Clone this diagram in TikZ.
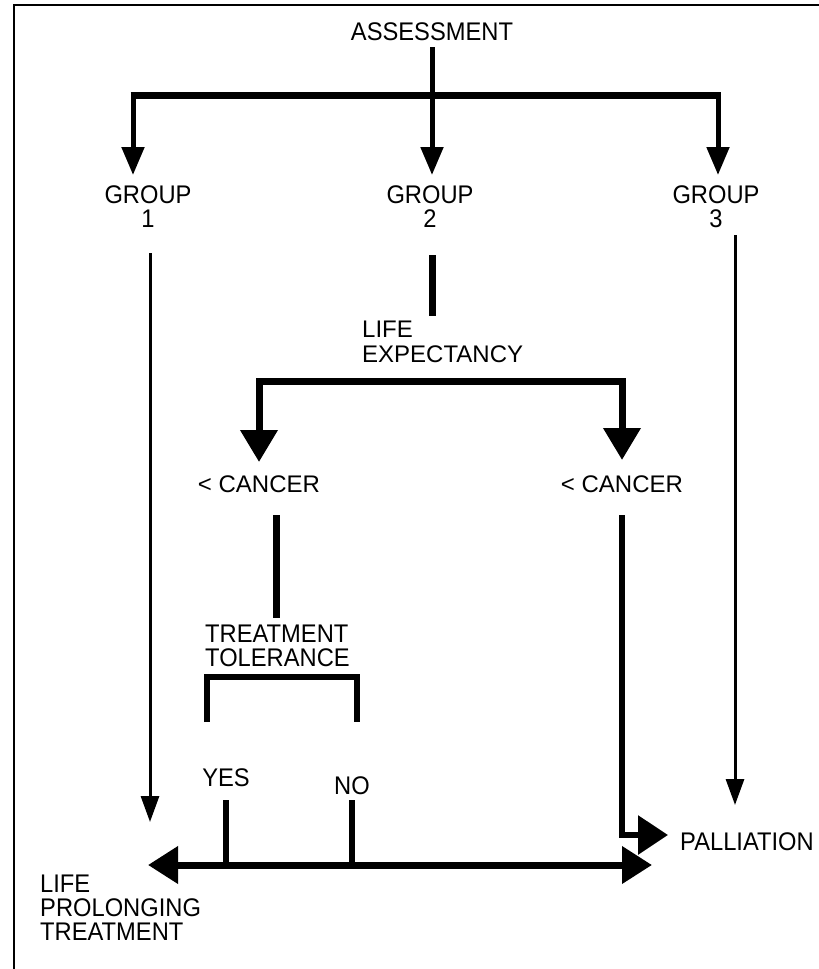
\documentclass[tikz,border=0pt]{standalone}
\usepackage{fontspec}
\setmainfont{Liberation Sans}
\newfontfamily\narrowfont[FakeStretch=0.93]{Liberation Sans}
\usetikzlibrary{arrows.meta}
\begin{document}
\begin{tikzpicture}[x=1pt,y=-1pt,
  lab/.style={inner sep=0pt,font=\narrowfont\fontsize{25.5}{24}\selectfont,align=center},
  labw/.style={inner sep=0pt,font=\fontsize{24}{24.5}\selectfont,align=left},
  barline/.style={line width=7pt,line join=miter},
  medline/.style={line width=5pt},
  thinline/.style={line width=3pt},
  smallhead/.style={-{Triangle[width=22pt,length=28pt]}},
  thinhead/.style={-{Triangle[width=18pt,length=26pt]}},
  bighead/.style={-{Triangle[width=36pt,length=32pt]}},
  bothhead/.style={{Triangle[width=36pt,length=30pt]}-{Triangle[width=36pt,length=30pt]}}
]
\useasboundingbox (0,0) rectangle (819,969);
\fill[white] (0,0) rectangle (819,969);
% frame
\draw[line width=2pt] (14,969) -- (14,5) -- (819,5);

% nodes
\node[lab] (assess) at (432,32) {ASSESSMENT};
\node[lab] (g1) at (148,207) {GROUP\\1};
\node[lab] (g2) at (430,207) {GROUP\\2};
\node[lab] (g3) at (716,207) {GROUP\\3};
\node[labw,anchor=west] (life) at (362,342) {LIFE\\EXPECTANCY};
\node[labw,anchor=center] (c1) at (259,484) {< CANCER};
\node[labw,anchor=center] (c2) at (622,484) {< CANCER};
\node[lab,align=left,anchor=west] (tt) at (205,646) {TREATMENT\\TOLERANCE};
\node[lab] (yes) at (226,778) {YES};
\node[lab] (no) at (352,786) {NO};
\node[lab,anchor=west] (pall) at (680,842) {PALLIATION};
\node[lab,align=left,anchor=west] (lpt) at (40,908) {LIFE\\PROLONGING\\TREATMENT};

% junction coordinates
\coordinate (topjL) at (133,95);
\coordinate (topjM) at (432,95);
\coordinate (topjR) at (718,95);
\coordinate (g1arr) at (133,175);
\coordinate (g2arr) at (432,175);
\coordinate (g3arr) at (718,175);
\coordinate (g1s) at (150,253);
\coordinate (g1e) at (150,822);
\coordinate (g3s) at (735,235);
\coordinate (g3e) at (735,805);
\coordinate (g2s) at (432,255);
\coordinate (g2e) at (432,316);
\coordinate (leL) at (259,381);
\coordinate (leR) at (622,381);
\coordinate (c1tip) at (259,462);
\coordinate (c2tip) at (622,460);
\coordinate (c1s) at (276,515);
\coordinate (c1e) at (276,618);
\coordinate (c2s) at (622,515);
\coordinate (c2c) at (622,835);
\coordinate (paltip) at (668,835);
\coordinate (brL) at (207,722);
\coordinate (brLt) at (207,677);
\coordinate (brRt) at (357,677);
\coordinate (brR) at (357,722);
\coordinate (yesS) at (226,800);
\coordinate (noS) at (352,800);
\coordinate (botL) at (148,865);
\coordinate (botR) at (652,865);

% top tree
\draw[medline] (assess.south) ++(0,6) -- (topjM);
\draw[barline] ([xshift=-2.5pt]topjL) -- ([xshift=2.5pt]topjR);
\draw[medline,smallhead] (topjL) -- (g1arr);
\draw[medline,smallhead] (topjM) -- (g2arr);
\draw[medline,smallhead] (topjR) -- (g3arr);

% group 1 and 3 long arrows
\draw[thinline,thinhead] (g1s) -- (g1e);
\draw[thinline,thinhead] (g3s) -- (g3e);

% group 2
\draw[barline] (g2s) -- (g2e);
\draw[barline] (c1tip |- 0,395) -- (leL) -- (leR) -- (c2tip |- 0,395);
\draw[barline,bighead] (259,390) -- (c1tip);
\draw[barline,bighead] (622,390) -- (c2tip);

% left cancer branch
\draw[barline] (c1s) -- (c1e);
\draw[line width=6pt,line join=miter] (brL) -- (brLt) -- (brRt) -- (brR);
\draw[line width=6pt] (yesS) -- (226,865);
\draw[line width=6pt] (noS) -- (352,865);
\draw[barline,bothhead] (botL) -- (botR);

% right cancer branch to palliation
\draw[line width=6pt,line join=miter,-{Triangle[width=38pt,length=30pt]}] (c2s) -- (c2c) -- (paltip);
\end{tikzpicture}
\end{document}
